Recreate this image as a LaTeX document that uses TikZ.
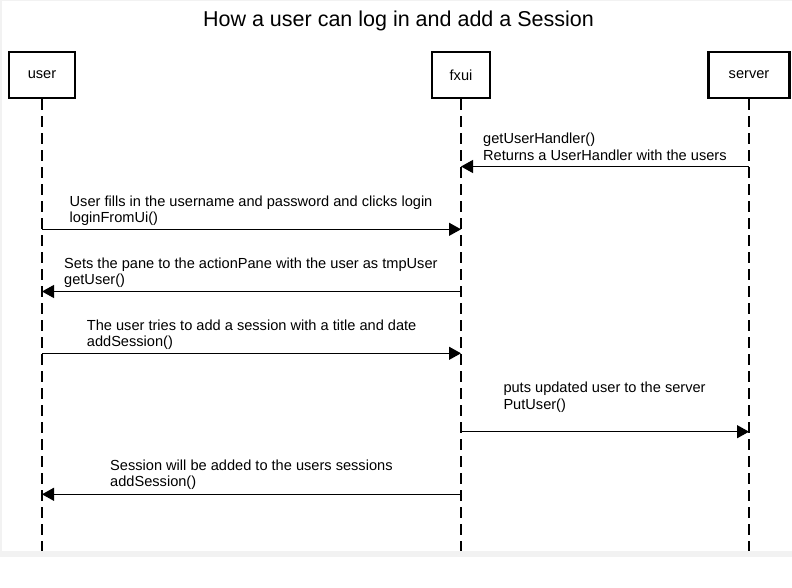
\documentclass[tikz,border=0pt]{standalone}
\usepackage{fontspec}
\setmainfont{Liberation Sans}
\usetikzlibrary{arrows.meta}
\begin{document}
\begin{tikzpicture}[x=1pt, y=-1pt,
		actor/.style={draw, line width=2.2pt, minimum height=46pt, inner sep=0pt, font=\fontsize{14.6}{16.5}\selectfont},
		lifeline/.style={draw=black, line width=1.3pt, dash pattern=on 11pt off 6pt},
		msg/.style={line width=1.2pt, -{Triangle[length=12pt,width=13pt]}},
		msgtext/.style={anchor=base west, align=left, inner sep=0pt, font=\fontsize{14.6}{16.5}\selectfont}]
		\useasboundingbox (0,0) rectangle (792,588);
		\fill[black!5] (0,0) rectangle (792,556.5);
		\fill[white] (2,1) rectangle (792,551);
		\node[anchor=base, inner sep=0pt, font=\fontsize{21.5}{24}\selectfont] (title) at (398.5,27) {How a user can log in and add a Session};
		\node[actor, minimum width=66pt] (user) at (42,75) {user};
		\node[actor, minimum width=58pt] (fxui) at (461,75) {fxui};
		\node[actor, minimum width=81pt] (server) at (749,75) {server};
		\coordinate (userend) at (42,551);
		\coordinate (fxuiend) at (461,551);
		\coordinate (serverend) at (749,551);
		\draw[lifeline] (user.south) -- (userend);
		\draw[lifeline] (fxui.south) -- (fxuiend);
		\draw[lifeline] (server.south) -- (serverend);
		\foreach \y/\from/\to in {166.5/749/461, 229.3/42/461, 291.5/461/42, 353.3/42/461, 431.7/461/749, 494.3/461/42}
			\draw[msg] (\from,\y) -- (\to,\y);
		\node[msgtext] (m1) at (483,160.3) {getUserHandler()\\Returns a UserHandler with the users};
		\node[msgtext] (m2) at (69.5,222.9) {User fills in the username and password and clicks login\\loginFromUi()};
		\node[msgtext] (m3) at (64,284.9) {Sets the pane to the actionPane with the user as tmpUser\\getUser()};
		\node[msgtext] (m4) at (86.7,346.6) {The user tries to add a session with a title and date\\addSession()};
		\node[msgtext] (m5) at (503.3,409.2) {puts updated user to the server\\PutUser()};
		\node[msgtext] (m6) at (110,486.9) {Session will be added to the users sessions\\addSession()};
	\end{tikzpicture}
\end{document}
